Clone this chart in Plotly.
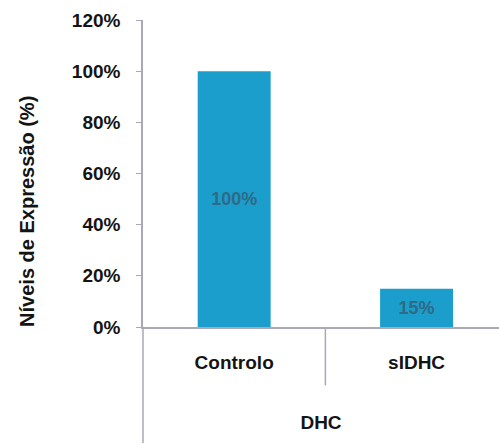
import plotly.graph_objects as go

# Expression levels of DHC (percent of control)
categories = ["Controlo", "sIDHC"]
values = [100, 15]
value_labels = ["100%", "15%"]
y_ticks = [0, 20, 40, 60, 80, 100, 120]
y_ticktext = ["0%", "20%", "40%", "60%", "80%", "100%", "120%"]
y_title = "Níveis de Expressão (%)"

bar_color = "#1b9ecb"
axis_color = "#a8a8b8"
text_color = "#141414"
font_family = "Arial, 'Liberation Sans', sans-serif"

fig = go.Figure(
    go.Bar(
        x=categories,
        y=values,
        width=0.4,
        marker=dict(color=bar_color, line=dict(width=0)),
        text=value_labels,
        textposition="inside",
        insidetextanchor="middle",
        textangle=0,
        textfont=dict(family=font_family, size=18, color="#2f6a86", weight="bold"),
        cliponaxis=False,
    )
)

fig.update_layout(
    width=499,
    height=445,
    margin=dict(l=143, r=0, t=20, b=118),
    plot_bgcolor="white",
    paper_bgcolor="white",
    showlegend=False,
    font=dict(family=font_family, color=text_color),
    xaxis=dict(
        type="category",
        range=[-0.5, 1.452],
        showline=True,
        linecolor=axis_color,
        linewidth=1.5,
        ticks="",
        showgrid=False,
        ticklabelstandoff=17,
        tickfont=dict(family=font_family, size=19, color=text_color, weight="bold"),
        title=dict(
            text="DHC",
            font=dict(family=font_family, size=19, color=text_color, weight="bold"),
            standoff=44,
        ),
        fixedrange=True,
    ),
    yaxis=dict(
        range=[0, 120],
        tickvals=y_ticks,
        ticktext=y_ticktext,
        showline=True,
        linecolor=axis_color,
        linewidth=1.5,
        ticks="outside",
        ticklen=5,
        tickcolor=axis_color,
        ticklabelstandoff=12,
        showgrid=False,
        zeroline=False,
        tickfont=dict(family=font_family, size=19, color=text_color, weight="bold"),
        fixedrange=True,
    ),
    annotations=[
        # vertical axis title, sitting a little below the plot's middle
        dict(
            text=y_title,
            xref="paper", yref="paper",
            x=-0.326, y=0.378,
            xanchor="center", yanchor="middle",
            textangle=-90,
            showarrow=False,
            font=dict(family=font_family, size=20, color=text_color, weight="bold"),
        )
    ],
    shapes=[
        # vertical axis continues below the category area
        dict(type="line", xref="paper", yref="paper", x0=0, x1=0, y0=0, y1=-0.378,
             line=dict(color=axis_color, width=1.5)),
        # divider between the two categories
        dict(type="line", xref="x", yref="paper", x0=0.5, x1=0.5, y0=0, y1=-0.19,
             line=dict(color=axis_color, width=1.5)),
    ],
)

fig.write_html("out.html")
